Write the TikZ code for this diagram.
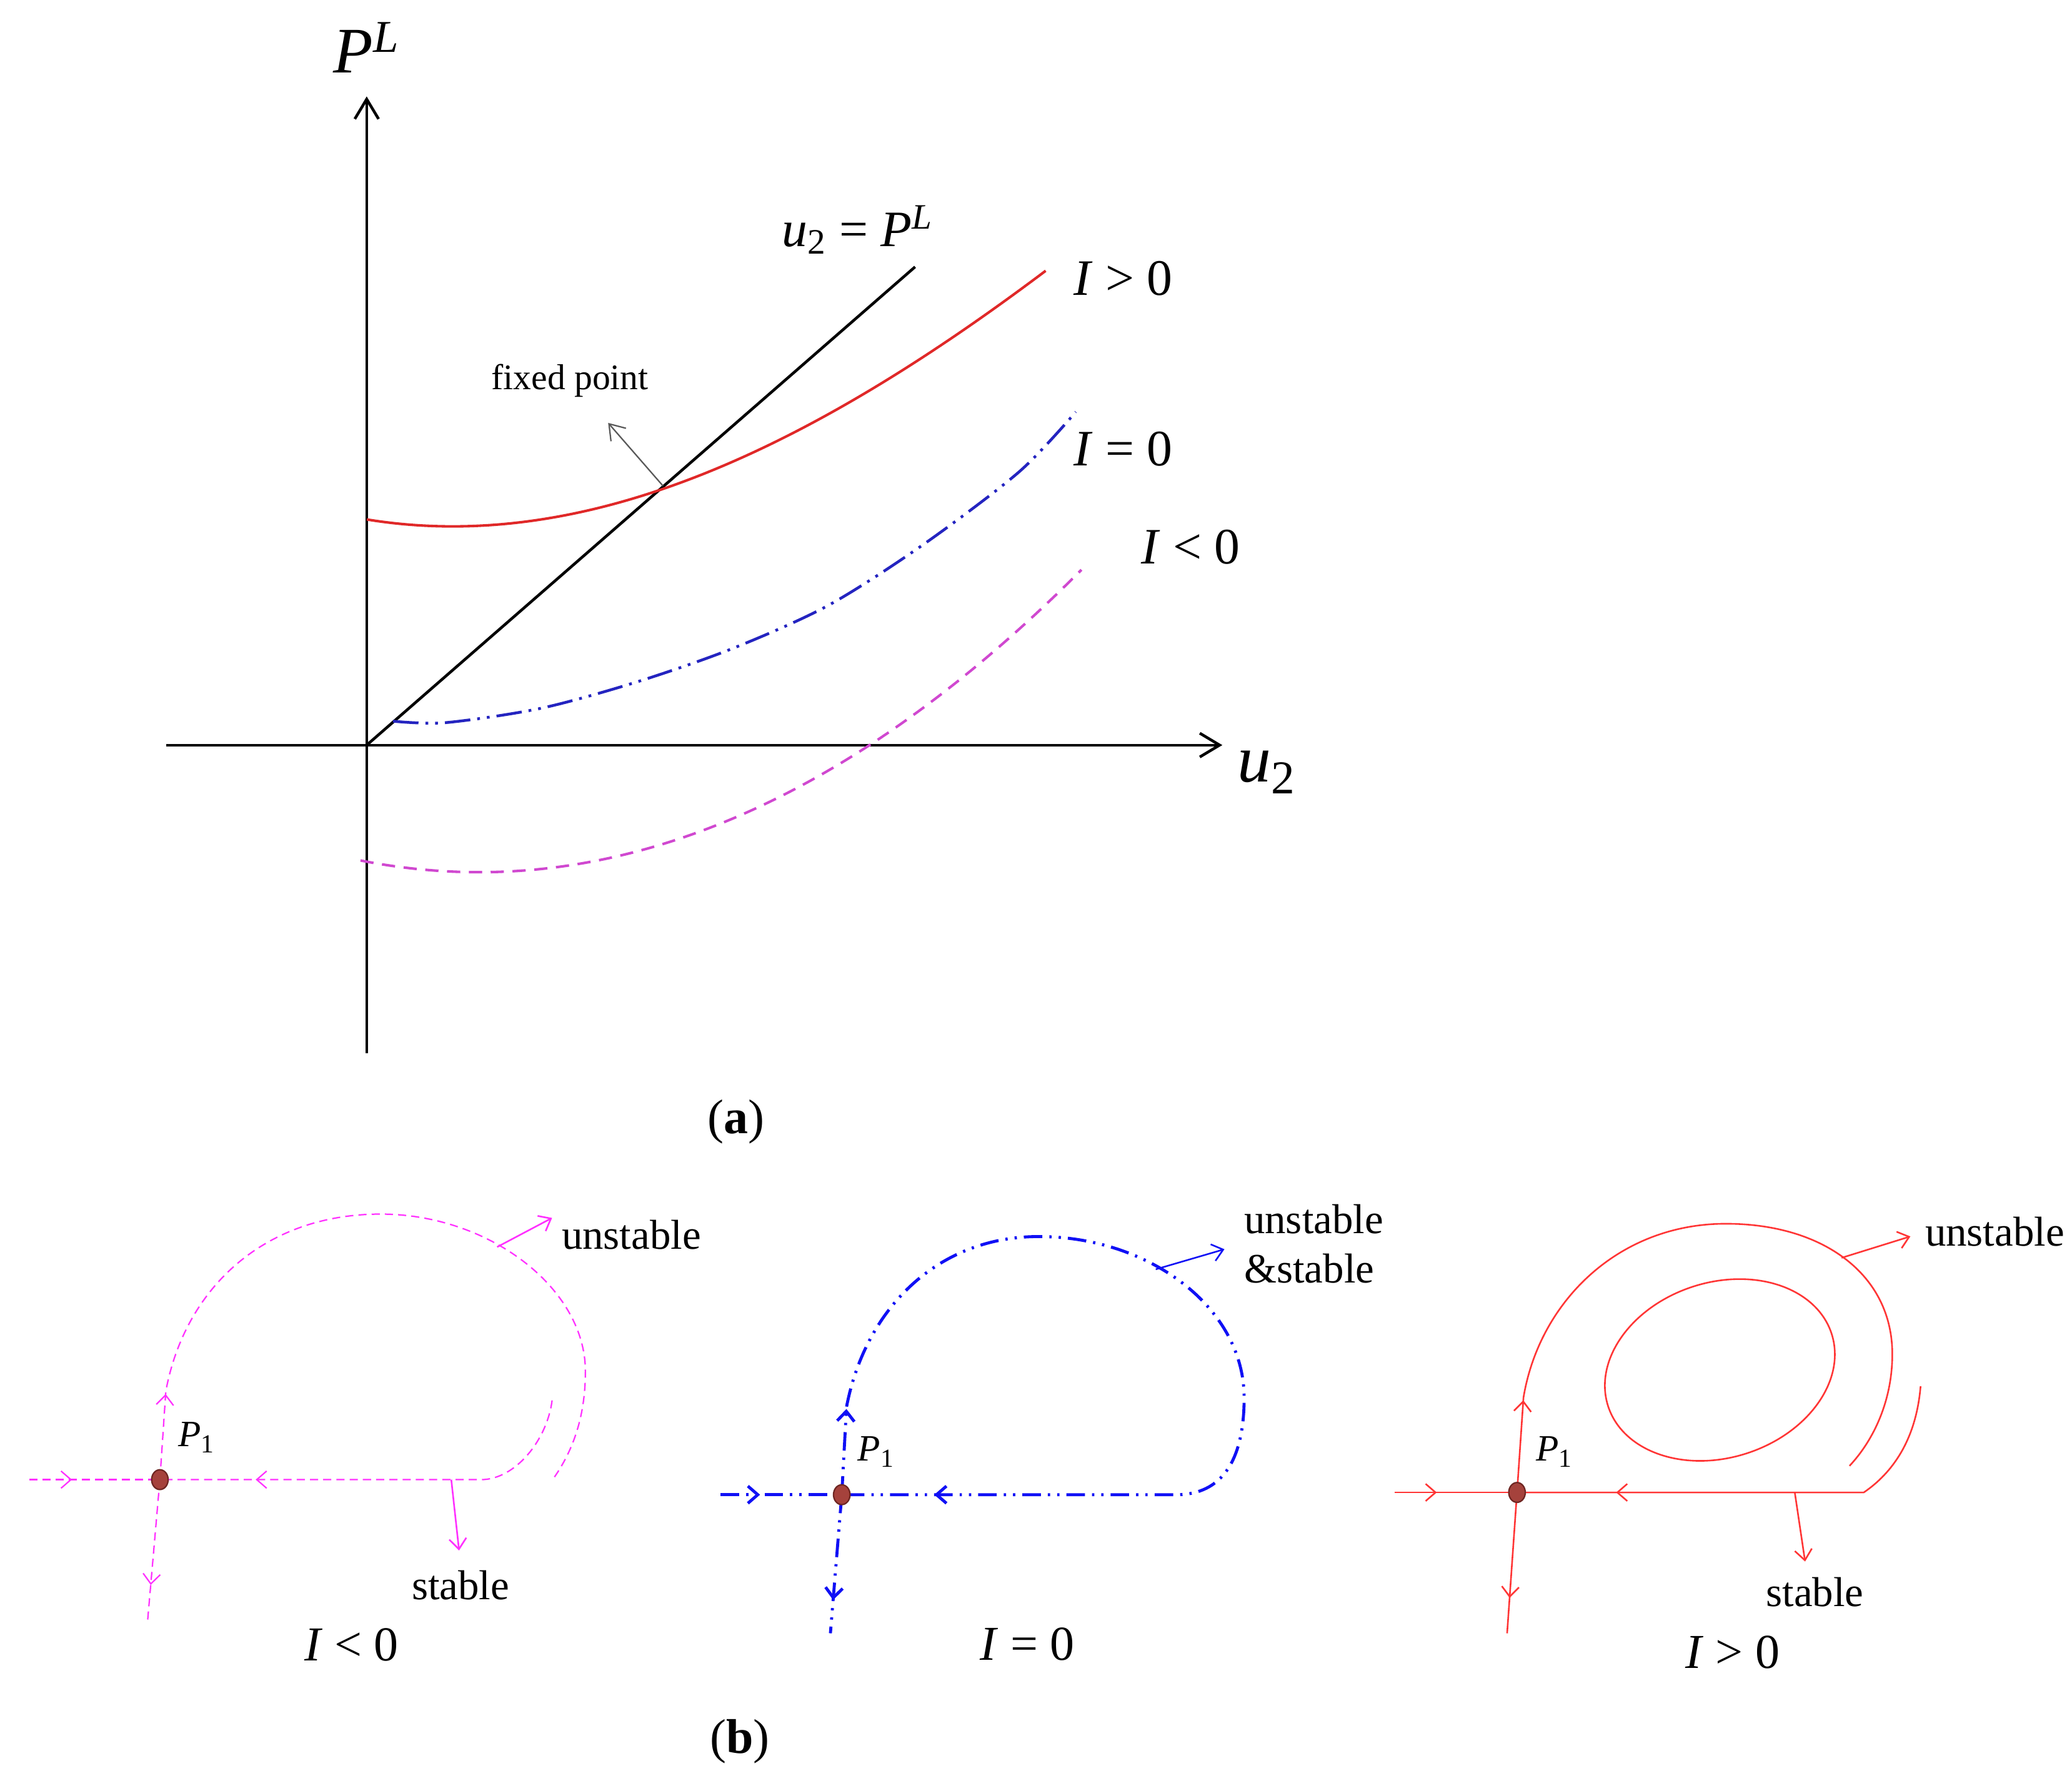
\documentclass[tikz,border=0pt]{standalone}
\usepackage{fontspec}
\setmainfont{Liberation Serif}
\usetikzlibrary{arrows.meta,decorations.markings,shapes.geometric}
\definecolor{cRed}{HTML}{E02828}
\definecolor{cBlue}{HTML}{2424C0}
\definecolor{cMag}{HTML}{D048D0}
\definecolor{bMag}{HTML}{FF30FF}
\definecolor{bBlue}{HTML}{1010F5}
\definecolor{bRed}{HTML}{FF3535}
\definecolor{dotFill}{HTML}{A5423C}
\definecolor{dotEdge}{HTML}{6E2622}
\tikzset{
  fs/.style={font=\fontsize{#1}{#1}\selectfont, inner sep=0pt},
  sb/.tip={Straight Barb[length=1.5mm,width=2.6mm]},
  mk/.style={postaction={decorate, solid, decoration={markings, mark=at position #1 with {\arrow{sb}}}}},
  axisline/.style={line width=1.2pt, -{Straight Barb[length=3mm,width=3.6mm]}},
  mline/.style={bMag, line width=0.6pt, dash pattern=on 3.5pt off 2.2pt},
  bline/.style={bBlue, line width=1.3pt, dash pattern=on 8pt off 3pt on 1pt off 3pt on 1pt off 3pt},
  rline/.style={bRed, line width=0.7pt},
  ptr/.style={line width=0.7pt, -{Straight Barb[length=1.6mm,width=2.6mm]}},
  pdot/.style={ellipse, fill=dotFill, draw=dotEdge, line width=0.6pt, minimum width=0.25cm, minimum height=0.3cm, inner sep=0pt}
}
\begin{document}
\begin{tikzpicture}[x=0.02cm,y=-0.02cm]
\useasboundingbox (0,0) rectangle (1568,1344);
\fill[white] (0,0) rectangle (1568,1344);

% ---------------- panel (a) ----------------
\coordinate (O) at (277.5,564);
\coordinate (yb) at (277.5,797);
\coordinate (yt) at (277.5,73);
\coordinate (xl) at (126,564);
\coordinate (xr) at (925,564);
\coordinate (Lt) at (692.5,202);
\coordinate (fp) at (501.8,367.9);
\coordinate (fpa) at (460.2,320.1);
\draw[axisline] (yb) -- (yt);
\draw[axisline] (xl) -- (xr);
\draw[line width=1.2pt] (O) -- (Lt);
\draw[cRed, line width=1.1pt] plot[domain=277.5:791.3, samples=80, smooth] (\x, {393.2 + 16.372*((\x-277.5)/100) - 13.125*((\x-277.5)/100)^2 + 0.5467*((\x-277.5)/100)^3});
\draw[cBlue, line width=1.2pt, dash pattern=on 11pt off 3pt on 1.2pt off 3pt on 1.2pt off 3pt] plot[smooth] coordinates {(297.4,545.9) (337.2,547) (409.5,536.1) (481.9,516.2) (554.3,490.9) (626.7,458.3) (699,412) (771.4,357) (814.1,311.8)};
\draw[cMag, line width=1.1pt, dash pattern=on 5.7pt off 3.7pt] plot[domain=272.8:818.4, samples=80, smooth] (\x, {660.2 - 11.013*((\x-362.5)/100)^2});
\draw[gray!70!black, line width=0.6pt, -{Straight Barb[length=2.2mm,width=3mm]}] (fp) -- (fpa);

\node[fs=28] (PL) at (277.4,36) {\textit{P}\textsuperscript{\textit{L}}};
\node[fs=29] (u2) at (958.7,584.6) {\textit{u}\textsubscript{2}};
\node[fs=22] (eq) at (649,174) {\textit{u}\textsubscript{2} = \textit{P}\textsuperscript{\textit{L}}};
\node[fs=15.5] (fpl) at (431.3,288.3) {fixed point};
\node[fs=22] (Ig) at (850,211) {\textit{I} > 0};
\node[fs=22] (Ie) at (850,340) {\textit{I} = 0};
\node[fs=22] (Il) at (901,414) {\textit{I} < 0};
\node[fs=21] (la) at (557,849) {(\textbf{a})};
\node[fs=21] (lb) at (560,1318) {(\textbf{b})};

% ---------------- panel (b) I<0 ----------------
\coordinate (pa) at (121,1120);
\coordinate (paL) at (22,1120);
\coordinate (paD) at (111.6,1228);
\coordinate (paU) at (125.5,1053);
\coordinate (paS) at (364,1120);
\coordinate (paSe) at (417.8,1060);
\draw[mline, mk=0.65cm] (paL) -- (pa);
\draw[mline, mk=-1.45cm] (paSe) .. controls (414,1090) and (390,1120) .. (paS) -- (pa);
\draw[mline, mk=1.3cm] (pa) -- (paU) .. controls (140,975) and (200,919) .. (288,919)
   .. controls (370,919) and (443,975) .. (443,1038)
   .. controls (443,1075) and (432,1100) .. (419.6,1118);
\draw[mline, mk=1.6cm] (pa) -- (paD);
\coordinate (pua1) at (376.2,943.9);
\coordinate (pua2) at (417.8,921.9);
\coordinate (psa1) at (341.5,1120);
\coordinate (psa2) at (347.4,1173.6);
\draw[ptr, bMag] (pua1) -- (pua2);
\draw[ptr, bMag] (psa1) -- (psa2);
\node[pdot] (da) at (pa) {};
\node[fs=18] (ua) at (477.8,934.7) {unstable};
\node[fs=18] (sa) at (348.5,1200) {stable};
\node[fs=16] (Pa) at (149,1088) {\textit{P}\textsubscript{1}};
\node[fs=21] (Ia) at (266,1245) {\textit{I} < 0};

% ---------------- panel (b) I=0 ----------------
\coordinate (pb) at (637,1131.4);
\coordinate (pbL) at (545.2,1131.4);
\coordinate (pbD) at (628.4,1236.3);
\coordinate (pbU) at (640.6,1065);
\coordinate (pbR) at (890.2,1131.4);
\draw[bline, mk=0.6cm] (pbL) -- (pb);
\draw[bline, mk=1.3cm, mk=-1.4cm] (pb) -- (pbU) .. controls (655,990) and (710,936) .. (786,936)
   .. controls (870,936) and (941.5,990) .. (941.5,1058)
   .. controls (941.5,1105) and (925,1131.4) .. (pbR) -- (pb);
\draw[bline, mk=1.6cm] (pb) -- (pbD);
\coordinate (pub1) at (874.6,960.8);
\coordinate (pub2) at (926.6,945.6);
\draw[ptr, bBlue] (pub1) -- (pub2);
\node[pdot] (db) at (pb) {};
\node[fs=18] (ub) at (994.2,922.7) {unstable};
\node[fs=18] (sbl) at (990.8,960.1) {\&stable};
\node[fs=16] (Pb) at (663.1,1098.8) {\textit{P}\textsubscript{1}};
\node[fs=21] (Ib) at (777.5,1244.7) {\textit{I} = 0};

% ---------------- panel (b) I>0 ----------------
\coordinate (pc) at (1148,1129.7);
\coordinate (pcL) at (1055.3,1129.7);
\coordinate (pcD) at (1140.5,1236.3);
\coordinate (pcU) at (1152.9,1057.8);
\coordinate (pcS) at (1410.4,1129.7);
\coordinate (pcSe) at (1453.4,1049.3);
\draw[rline, mk=0.64cm] (pcL) -- (pc);
\draw[rline, mk=-1.5cm] (pcSe) .. controls (1450,1090) and (1432,1115) .. (pcS) -- (pc);
\draw[rline, mk=1.4cm] (pc) -- (pcU) .. controls (1165,985) and (1225,926.3) .. (1306,926.3)
   .. controls (1380,926.3) and (1432,965) .. (1432,1025)
   .. controls (1432,1060) and (1418,1090) .. (1399.6,1109.6);
\draw[rline, mk=1.6cm] (pc) -- (pcD);
\draw[rline, rotate around={18:(1301.5,1037)}] (1301.5,1037) ellipse [x radius=88.9, y radius=66.3];
\coordinate (puc1) at (1393.6,952.1);
\coordinate (puc2) at (1445.7,935.9);
\coordinate (psc1) at (1358.2,1129.7);
\coordinate (psc2) at (1366,1182);
\draw[ptr, bRed] (puc1) -- (puc2);
\draw[ptr, bRed] (psc1) -- (psc2);
\node[pdot] (dc) at (pc) {};
\node[fs=18] (uc) at (1509.6,932.3) {unstable};
\node[fs=18] (sc) at (1373.4,1205) {stable};
\node[fs=16] (Pc) at (1176.5,1098.8) {\textit{P}\textsubscript{1}};
\node[fs=21] (Ic) at (1311.1,1250.8) {\textit{I} > 0};
\end{tikzpicture}
\end{document}
